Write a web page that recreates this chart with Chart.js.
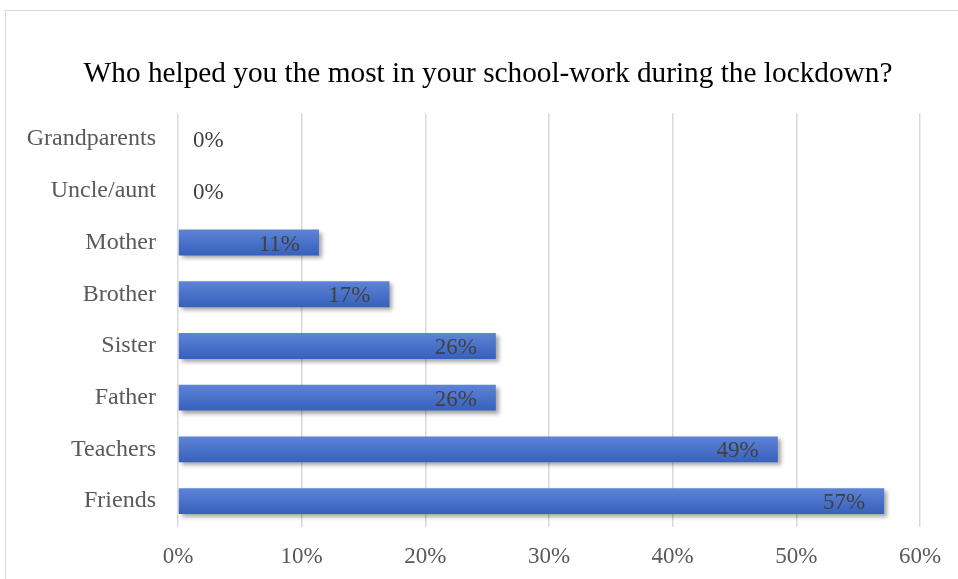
<!DOCTYPE html>
<html>
<head>
<meta charset="utf-8">
<script src="https://cdn.jsdelivr.net/npm/chart.js@4/dist/chart.umd.min.js"></script>
<style>
  html, body { margin: 0; padding: 0; background: #fff; overflow: hidden; }
  #frame {
    position: absolute; left: 5px; top: 10px;
    width: 1000px; height: 620px;
    border: 1.5px solid #d9d9d9;
  }
  #wrap { position: absolute; left: 0; top: 0; width: 958px; height: 579px; }
</style>
</head>
<body>
<div id="frame"></div>
<div id="wrap"><canvas id="chart" width="958" height="579"></canvas></div>
<script>
// Survey answers, top to bottom
const helpers = ['Grandparents', 'Uncle/aunt', 'Mother', 'Brother', 'Sister', 'Father', 'Teachers', 'Friends'];
const shares  = [0, 0, 11.4, 17.1, 25.7, 25.7, 48.5, 57.1];
const pctTicks = [0, 10, 20, 30, 40, 50, 60];

const serif = '"Liberation Serif", "Times New Roman", serif';

// title sits centred over the frame rather than the whole canvas
const titleShift = {
  id: 'titleShift',
  afterLayout(chart) {
    if (chart.titleBlock) chart.titleBlock.left += 56;
  }
};

// soft drop shadow under the bars
const barShadow = {
  id: 'barShadow',
  beforeDatasetsDraw(chart) {
    const ctx = chart.ctx;
    ctx.save();
    ctx.shadowColor   = 'rgba(0,0,0,0.35)';
    ctx.shadowOffsetX = 3;
    ctx.shadowOffsetY = 3;
    ctx.shadowBlur    = 4;
  },
  afterDatasetsDraw(chart) {
    chart.ctx.restore();
  }
};

// percentage labels: inside bar end, or just past the axis for zeros
const barLabels = {
  id: 'barLabels',
  afterDatasetsDraw(chart) {
    const ctx  = chart.ctx;
    const meta = chart.getDatasetMeta(0);
    ctx.save();
    ctx.font = '23px ' + serif;
    ctx.fillStyle = '#404040';
    ctx.textBaseline = 'middle';
    meta.data.forEach((bar, i) => {
      const v = shares[i];
      const txt = Math.round(v) + '%';
      if (v > 0) {
        ctx.textAlign = 'right';
        ctx.fillText(txt, bar.x - 19, bar.y + 2);
      } else {
        ctx.textAlign = 'left';
        ctx.fillText(txt, bar.base + 15, bar.y + 2);
      }
    });
    ctx.restore();
  }
};

function barFill(c) {
  const chart = c.chart;
  if (!chart.chartArea || !chart.scales.y) return '#4a72c8';
  const y = chart.scales.y.getPixelForValue(c.dataIndex);
  const g = chart.ctx.createLinearGradient(0, y - 13, 0, y + 13);
  g.addColorStop(0, '#5d84d6');
  g.addColorStop(1, '#3760bc');
  return g;
}

new Chart(document.getElementById('chart'), {
  type: 'bar',
  data: {
    labels: helpers,
    datasets: [{
      data: shares,
      backgroundColor: barFill,
      borderWidth: 0,
      categoryPercentage: 1,
      barPercentage: 0.5,
    }]
  },
  options: {
    indexAxis: 'y',
    responsive: false,
    animation: false,
    layout: { padding: { left: 0, right: 38, top: 0, bottom: 0 } },
    plugins: {
      legend: { display: false },
      tooltip: { enabled: false },
      title: {
        display: true,
        text: 'Who helped you the most in your school-work during the lockdown?',
        color: '#000',
        font: { family: serif, size: 29.3, weight: 'normal' },
        padding: { top: 57, bottom: 21 },
      },
    },
    scales: {
      x: {
        min: 0,
        max: 60,
        afterBuildTicks: s => { s.ticks = pctTicks.map(v => ({ value: v })); },
        afterFit: s => { s.height = 52; },
        grid: { color: '#d9d9d9', lineWidth: 1.5, drawTicks: false },
        border: { display: false },
        ticks: {
          color: '#595959',
          font: { family: serif, size: 23 },
          padding: 16,
          callback: v => v + '%',
        },
      },
      y: {
        afterFit: s => { s.width = 178; },
        grid: { display: false, drawTicks: false },
        border: { display: false },
        ticks: {
          color: '#595959',
          font: { family: serif, size: 24 },
          padding: 22,
        },
      },
    },
  },
  plugins: [titleShift, barShadow, barLabels],
});
</script>
</body>
</html>
